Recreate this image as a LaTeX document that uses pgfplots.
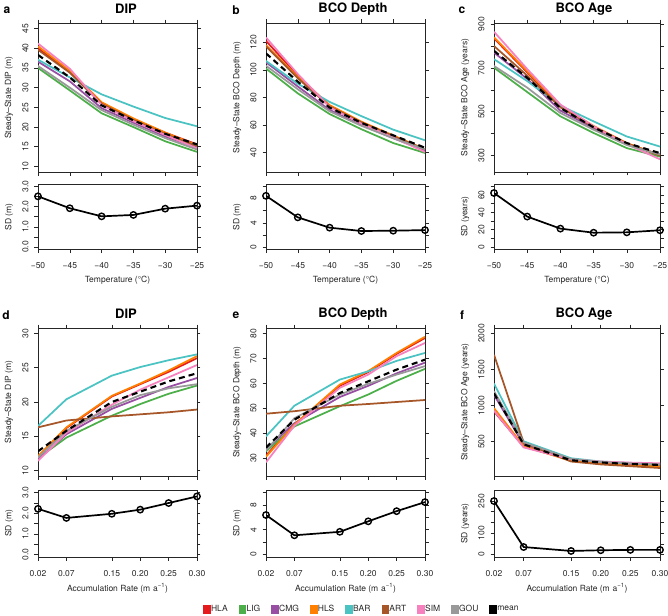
\documentclass[border=0pt]{standalone}
\usepackage{pgfplots}
\pgfplotsset{compat=1.18}
\usepackage{pgfplotstable}
\usepackage{fontspec}
\setmainfont{TeX Gyre Heros}

\definecolor{cHLA}{HTML}{E41A1C}
\definecolor{cLIG}{HTML}{4DAF4A}
\definecolor{cCMG}{HTML}{984EA3}
\definecolor{cHLS}{HTML}{FF7F00}
\definecolor{cBAR}{HTML}{4CC3C3}
\definecolor{cART}{HTML}{A65628}
\definecolor{cSIM}{HTML}{F781BF}
\definecolor{cGOU}{HTML}{999999}

% Steady-state DIP vs temperature
\pgfplotstableread{
x   HLA  LIG  CMG  HLS  BAR  ART  SIM  GOU  mean sd
-50 40.0 35.0 36.6 40.5 37.1 39.6 41.2 35.5 38.3 2.51
-45 34.0 29.3 31.6 34.3 32.6 33.8 34.8 30.0 32.6 1.92
-40 26.0 23.5 24.8 26.3 28.3 25.9 25.6 24.3 25.5 1.52
-35 22.0 20.0 21.1 22.2 25.2 21.8 21.5 20.6 21.7 1.59
-30 18.6 16.4 17.6 18.6 22.3 18.2 18.0 17.2 18.3 1.90
-25 15.6 13.7 14.8 15.4 20.2 15.2 14.6 14.3 15.6 2.05
}\tabDIPt

% Steady-state BCO depth vs temperature
\pgfplotstableread{
x   HLA   LIG   CMG   HLS   BAR   ART   SIM   GOU   mean  sd
-50 121.0 101.0 105.5 118.0 106.5 117.0 123.5 103.0 112.0 8.45
-45 96.0  83.0  88.0  95.0  90.0  94.0  97.0  86.0  91.5  4.90
-40 74.0  68.0  71.0  74.5  76.8  73.5  73.0  70.0  72.7  3.20
-35 62.0  57.0  60.0  62.5  66.5  62.0  61.0  59.5  61.6  2.65
-30 52.0  47.0  50.5  52.5  56.7  52.0  51.0  50.5  52.6  2.70
-25 42.0  39.8  41.5  42.5  49.0  42.5  40.5  42.5  43.6  2.80
}\tabBCODt

% Steady-state BCO age vs temperature
\pgfplotstableread{
x   HLA LIG CMG HLS BAR ART SIM GOU mean sd
-50 835 701 770 840 740 800 865 709 778 62.4
-45 680 590 650 685 640 665 695 610 655 35.2
-40 525 479 505 528 528 520 533 494 517 21.3
-35 432 403 425 435 456 430 433 418 429 16.6
-30 355 334 352 357 387 355 352 348 357 17.0
-25 300 295 305 302 341 300 283 305 311 19.4
}\tabBCOAt

% Steady-state DIP vs accumulation rate
\pgfplotstableread{
x    HLA  LIG  CMG  HLS  BAR   ART  SIM  GOU  mean sd
0.02 12.0 11.8 11.6 12.1 16.5  16.3 11.4 11.9 12.8 2.21
0.07 16.2 14.8 15.3 16.3 20.4  17.3 15.5 15.8 15.8 1.77
0.15 20.8 18.0 19.0 20.9 23.85 17.9 19.6 19.3 20.0 1.97
0.20 22.6 19.7 20.6 22.7 25.1  18.2 21.8 21.0 21.5 2.17
0.25 24.4 21.2 22.2 24.6 26.1  18.5 23.6 22.0 23.0 2.49
0.30 26.4 22.4 23.5 26.7 26.95 18.9 25.4 22.6 24.2 2.81
}\tabDIPa

% Steady-state BCO depth vs accumulation rate
\pgfplotstableread{
x    HLA  LIG  CMG  HLS  BAR  ART  SIM  GOU  mean sd
0.02 31.0 32.7 33.4 30.5 38.7 47.8 28.3 33.0 34.2 6.37
0.07 43.5 42.7 44.0 43.4 51.0 48.8 43.0 46.0 45.4 3.10
0.15 59.0 50.8 54.5 59.5 61.5 51.0 58.2 55.5 56.1 3.66
0.20 64.5 55.5 59.0 64.9 64.8 51.7 63.5 59.8 60.8 5.35
0.25 71.8 61.0 64.0 72.2 69.0 52.5 70.9 63.5 65.5 6.99
0.30 78.2 65.8 68.3 78.7 72.2 53.3 76.2 66.9 69.5 8.45
}\tabBCODa

% Steady-state BCO age vs accumulation rate
\pgfplotstableread{
x    HLA LIG  CMG  HLS BAR  ART  SIM GOU  mean sd
0.02 920 1160 1150 965 1305 1705 930 1200 1170 250
0.07 430 470  460  440 505  485  420 490  463  35
0.15 245 250  248  232 270  225  255 260  242  16.7
0.20 205 210  210  195 225  185  225 220  212  20
0.25 185 185  190  170 205  160  210 200  190  21.7
0.30 175 170  180  155 190  135  200 185  178  21.7
}\tabBCOAa

\pgfplotsset{
  every axis/.append style={font=\fontsize{8.5bp}{10bp}\selectfont},
  base/.style={
    scale only axis, anchor=north west,
    /pgf/number format/assume math mode=true,
    /pgf/number format/1000 sep={},
    tick align=outside, major tick length=3.5bp,
    axis line style={line width=0.6bp, black!85},
    every tick/.style={line width=0.6bp, black!85},
    yticklabel style={anchor=center, xshift=-9bp, rotate=90, inner sep=0pt, text=black!85},
    xticklabel style={anchor=center, yshift=-13bp, inner sep=0pt, text=black!85},
    every axis y label/.style={at={(axis description cs:0,0.5)}, xshift=-29bp, rotate=90, anchor=center, text=black!85},
    every axis x label/.style={at={(axis description cs:0.5,0)}, yshift=-31bp, anchor=center, text=black!85},
  },
  mainax/.style={base, xtick pos=both, ytick pos=both, xticklabels={}},
  sdax/.style={base, xtick pos=left, ytick pos=both},
  topcol/.style={xmin=-50, xmax=-25, xtick={-50,-45,-40,-35,-30,-25}},
  botcol/.style={xmin=0.02, xmax=0.30, xtick={0.02,0.07,0.15,0.20,0.25,0.30}},
  mline/.style={line width=1.75bp, no markers},
  meanline/.style={black, line width=2.1bp, no markers, dash pattern=on 6bp off 4bp},
  sdline/.style={black, line width=1.7bp, mark=o, mark size=3.2bp, mark options={line width=1.4bp, solid}},
  sq legend/.style={legend image code/.code={\fill[##1] (0bp,-3.5bp) rectangle (6.5bp,4bp);}},
  mean legend/.style={legend image code/.code={%
      \fill[black] (0bp,-3.5bp) rectangle (2.6bp,4bp);
      \fill[black] (3.9bp,-3.5bp) rectangle (6.5bp,4bp);}},
}

\newcommand{\modelcurves}[1]{%
  \addplot[mline, cHLA] table[x=x, y=HLA] {#1};
  \addplot[mline, cLIG] table[x=x, y=LIG] {#1};
  \addplot[mline, cCMG] table[x=x, y=CMG] {#1};
  \addplot[mline, cHLS] table[x=x, y=HLS] {#1};
  \addplot[mline, cBAR] table[x=x, y=BAR] {#1};
  \addplot[mline, cART] table[x=x, y=ART] {#1};
  \addplot[mline, cSIM] table[x=x, y=SIM] {#1};
  \addplot[mline, cGOU] table[x=x, y=GOU] {#1};
  \addplot[meanline] table[x=x, y=mean] {#1};
}
\newcommand{\sdcurve}[1]{\addplot[sdline] table[x=x, y=sd] {#1};}

\begin{document}
\begin{tikzpicture}
\useasboundingbox (0bp,0bp) rectangle (668bp,-616bp);

% ---------------- top row: temperature ----------------
\begin{axis}[mainax, topcol, at={(38bp,-23bp)}, width=159bp, height=149bp,
  ymin=8.6, ymax=46.4, ytick={10,15,...,45},
  ylabel={Steady–State DIP (m)}]
  \modelcurves{\tabDIPt}
\end{axis}
\begin{axis}[sdax, topcol, at={(38bp,-184bp)}, width=159bp, height=65.5bp,
  ymin=-0.12, ymax=3.12, ytick={0,0.5,...,3}, yticklabels={0.0,,1.0,,2.0,,3.0},
  xticklabels={−50,−45,−40,−35,−30,−25},
  ylabel={SD (m)}, xlabel={Temperature (°C)}]
  \sdcurve{\tabDIPt}
\end{axis}

\begin{axis}[mainax, topcol, at={(266bp,-23bp)}, width=159bp, height=149bp,
  ymin=26, ymax=134, ytick={40,60,...,120},
  ylabel={Steady–State BCO Depth (m)}]
  \modelcurves{\tabBCODt}
\end{axis}
\begin{axis}[sdax, topcol, at={(266bp,-184bp)}, width=159bp, height=65.5bp,
  ymin=-0.4, ymax=10.4, ytick={0,2,...,10}, yticklabels={0,,4,,8,},
  xticklabels={−50,−45,−40,−35,−30,−25},
  ylabel={SD (m)}, xlabel={Temperature (°C)}]
  \sdcurve{\tabBCODt}
\end{axis}

\begin{axis}[mainax, topcol, at={(494bp,-23bp)}, width=166bp, height=149bp,
  ymin=225, ymax=905, ytick={300,400,...,900}, yticklabels={300,,500,,700,,900},
  ylabel={Steady–State BCO Age (years)}]
  \modelcurves{\tabBCOAt}
\end{axis}
\begin{axis}[sdax, topcol, at={(494bp,-184bp)}, width=166bp, height=65.5bp,
  ymin=-2.8, ymax=72.8, ytick={0,10,...,70}, yticklabels={0,,20,,40,,60,},
  xticklabels={−50,−45,−40,−35,−30,−25},
  ylabel={SD (years)}, xlabel={Temperature (°C)}]
  \sdcurve{\tabBCOAt}
\end{axis}

% ---------------- bottom row: accumulation rate ----------------
\begin{axis}[mainax, botcol, at={(38bp,-328bp)}, width=159bp, height=148bp,
  ymin=9.2, ymax=30.8, ytick={10,15,...,30},
  ylabel={Steady–State DIP (m)}]
  \modelcurves{\tabDIPa}
\end{axis}
\begin{axis}[sdax, botcol, at={(38bp,-490bp)}, width=159bp, height=67bp,
  ymin=-0.12, ymax=3.12, ytick={0,0.5,...,3}, yticklabels={0.0,,1.0,,2.0,,3.0},
  xticklabels={0.02,0.07,0.15,0.20,0.25,0.30},
  ylabel={SD (m)}, xlabel={Accumulation Rate (m\,\,a\textsuperscript{−1})}]
  \sdcurve{\tabDIPa}
\end{axis}

\begin{axis}[mainax, botcol, at={(266bp,-328bp)}, width=159bp, height=148bp,
  ymin=22.8, ymax=82.2, ytick={30,40,...,80},
  ylabel={Steady–State BCO Depth (m)}]
  \modelcurves{\tabBCODa}
\end{axis}
\begin{axis}[sdax, botcol, at={(266bp,-490bp)}, width=159bp, height=67bp,
  ymin=-0.4, ymax=10.4, ytick={0,2,...,10}, yticklabels={0,,4,,8,},
  xticklabels={0.02,0.07,0.15,0.20,0.25,0.30},
  ylabel={SD (m)}, xlabel={Accumulation Rate (m\,\,a\textsuperscript{−1})}]
  \sdcurve{\tabBCODa}
\end{axis}

\begin{axis}[mainax, botcol, at={(494bp,-328bp)}, width=166bp, height=148bp,
  ymin=24, ymax=2076, ytick={500,1000,1500,2000},
  ylabel={Steady–State BCO Age (years)}]
  \modelcurves{\tabBCOAa}
\end{axis}
\begin{axis}[sdax, botcol, at={(494bp,-490bp)}, width=166bp, height=67bp,
  ymin=-11.6, ymax=301.6, ytick={0,50,...,250}, yticklabels={0,,100,,,250},
  xticklabels={0.02,0.07,0.15,0.20,0.25,0.30},
  ylabel={SD (years)}, xlabel={Accumulation Rate (m\,\,a\textsuperscript{−1})}]
  \sdcurve{\tabBCOAa}
\end{axis}

% legend row
\begin{axis}[hide axis, scale only axis, anchor=north west, at={(266bp,-490bp)},
  width=159bp, height=67bp, xmin=0, xmax=1, ymin=0, ymax=1,
  font=\fontsize{8.5bp}{10bp}\selectfont,
  legend columns=9,
  legend style={at={(axis description cs:0.6,-0.78)}, anchor=center,
    draw=none, fill=none, inner sep=0pt,
    nodes={inner sep=1bp, text=black!85},
    /tikz/every even column/.append style={column sep=10bp}}]
  \addlegendimage{sq legend, cHLA}\addlegendentry{HLA}
  \addlegendimage{sq legend, cLIG}\addlegendentry{LIG}
  \addlegendimage{sq legend, cCMG}\addlegendentry{CMG}
  \addlegendimage{sq legend, cHLS}\addlegendentry{HLS}
  \addlegendimage{sq legend, cBAR}\addlegendentry{BAR}
  \addlegendimage{sq legend, cART}\addlegendentry{ART}
  \addlegendimage{sq legend, cSIM}\addlegendentry{SIM}
  \addlegendimage{sq legend, cGOU}\addlegendentry{GOU}
  \addlegendimage{mean legend}\addlegendentry{mean}
\end{axis}

% panel titles and letters
\begin{scope}[every node/.style={font=\bfseries\fontsize{13bp}{15bp}\selectfont, anchor=center}]
  \node at (126bp,-9bp) {DIP};
  \node at (353bp,-9bp) {BCO Depth};
  \node at (584bp,-9bp) {BCO Age};
  \node at (126bp,-314bp) {DIP};
  \node at (353bp,-314bp) {BCO Depth};
  \node at (584bp,-314bp) {BCO Age};
\end{scope}
\begin{scope}[every node/.style={font=\bfseries\fontsize{12bp}{14bp}\selectfont, anchor=center}]
  \node at (7bp,-10bp) {a};
  \node at (236bp,-10bp) {b};
  \node at (462bp,-10bp) {c};
  \node at (6bp,-315bp) {d};
  \node at (236bp,-315bp) {e};
  \node at (462bp,-315bp) {f};
\end{scope}
\end{tikzpicture}
\end{document}
